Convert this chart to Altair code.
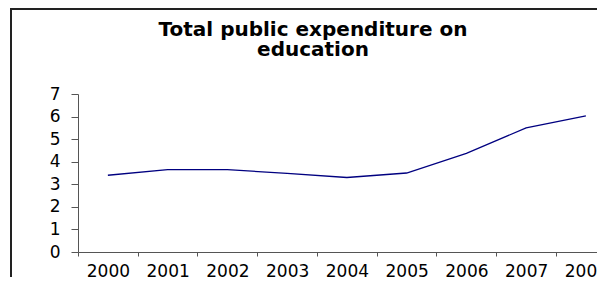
import altair as alt
import pandas as pd

years = [2000, 2001, 2002, 2003, 2004, 2005, 2006, 2007, 2008]
values = [3.4, 3.65, 3.65, 3.48, 3.3, 3.5, 4.37, 5.5, 6.03]
title_lines = ["Total public expenditure on", "education"]
y_ticks = [0, 1, 2, 3, 4, 5, 6, 7]
x_tick_bounds = [1999.5, 2000.5, 2001.5, 2002.5, 2003.5, 2004.5, 2005.5, 2006.5, 2007.5]

df = pd.DataFrame({"year": years, "value": values})

W, H = 519, 158
STEP = 59.75
FONT = "DejaVu Sans"

x_scale = alt.Scale(domain=[1999.5, 1999.5 + W / STEP], nice=False, zero=False)
y_scale = alt.Scale(domain=[0, 7], nice=False)

line = alt.Chart(df).mark_line(color="#000080", strokeWidth=1.3, clip=False).encode(
    x=alt.X("year:Q", scale=x_scale,
            axis=alt.Axis(values=x_tick_bounds, title=None, grid=False,
                          labelExpr="toString(datum.value + 0.5)",
                          labelOffset=STEP / 2, labelOverlap=False, labelFlush=False,
                          labelBound=False, tickSize=4, labelPadding=7,
                          labelFont=FONT, labelFontSize=17, labelColor="#000",
                          domainColor="#555", tickColor="#555", labelBaseline="top")),
    y=alt.Y("value:Q", scale=y_scale,
            axis=alt.Axis(values=y_ticks, title=None, grid=False, tickSize=7,
                          labelPadding=11, labelFont=FONT, labelFontSize=17,
                          labelColor="#000", domainColor="#555", tickColor="#555",
                          format="d")),
)

one = pd.DataFrame({"t": [0]})
title1 = alt.Chart(one).mark_text(
    text=title_lines[0], font=FONT, fontSize=20, fontWeight="bold", align="center",
    baseline="alphabetic", color="#000"
).encode(x=alt.value(235), y=alt.value(-58))
title2 = alt.Chart(one).mark_text(
    text=title_lines[1], font=FONT, fontSize=20, fontWeight="bold", align="center",
    baseline="alphabetic", color="#000"
).encode(x=alt.value(235), y=alt.value(-38))

frame_left = alt.Chart(one).mark_rule(color="#222", strokeWidth=2, clip=False).encode(
    x=alt.value(-67), y=alt.value(-85), y2=alt.value(H + 30))
frame_top = alt.Chart(one).mark_rule(color="#222", strokeWidth=2, clip=False).encode(
    x=alt.value(-68), x2=alt.value(W + 20), y=alt.value(-85))

chart = alt.layer(frame_left, frame_top, title1, title2, line).properties(
    width=W, height=H,
    autosize=alt.AutoSizeParams(type="none"),
    padding={"left": 70, "top": 86, "right": 0, "bottom": 25},
).configure(background="white").configure_view(stroke=None)

chart.save("out.html", embed_options={"renderer": "svg", "actions": False})
